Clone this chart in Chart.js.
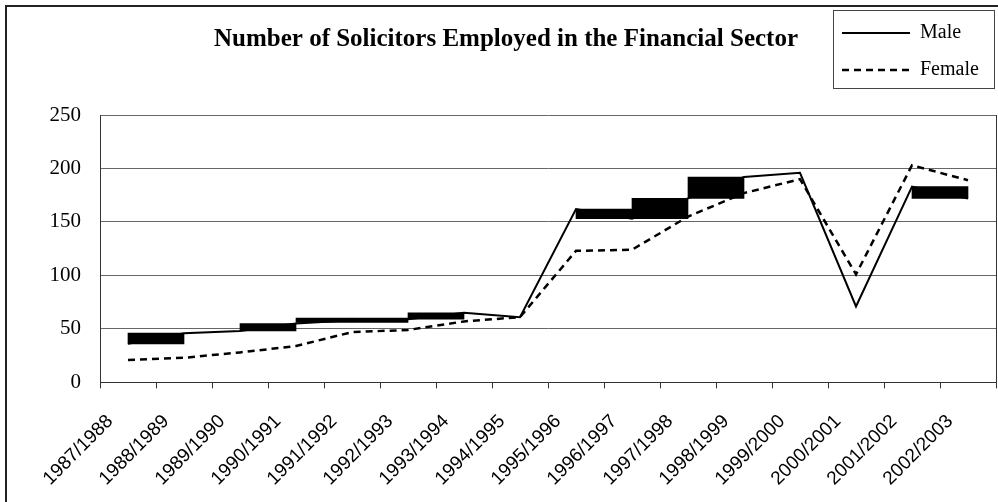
<!DOCTYPE html>
<html>
<head>
<meta charset="utf-8">
<title>Number of Solicitors Employed in the Financial Sector</title>
<script src="https://cdn.jsdelivr.net/npm/chart.js@4.4.1/dist/chart.umd.min.js"></script>
<style>
    html, body { margin: 0; padding: 0; background: #fff; overflow: hidden; }
    .chart-wrap { position: relative; width: 998px; height: 502px; }
    .frame {
        position: absolute; left: 5px; top: 5px; width: 1100px; height: 600px;
        border-left: 2px solid #222; border-top: 2px solid #222; pointer-events: none;
    }
</style>
</head>
<body>
<div class="chart-wrap">
    <canvas id="solicitorsChart"></canvas>
    <div class="frame"></div>
</div>
<script>
// Academic years on the category axis
const years = ['1987/1988', '1988/1989', '1989/1990', '1990/1991', '1991/1992', '1992/1993',
    '1993/1994', '1994/1995', '1995/1996', '1996/1997', '1997/1998', '1998/1999',
    '1999/2000', '2000/2001', '2001/2002', '2002/2003'];

// Solicitors employed
const male = [36, 46, 48, 55, 58, 59, 65, 61, 162, 153, 172, 192, 196, 71, 183, 172];
const female = [21, 23, 28, 34, 47, 49, 57, 61, 123, 124, 155, 177, 190, 101, 203, 189];

// Filled blocks on the Male line, each one runs from a year to the next
const blockFrom = [0, 2, 3, 4, 5, 8, 9, 10, 14];
const blockLow = [36, 48, 56, 56, 59, 153, 153, 172, 172];
const blockHigh = [46, 55, 60, 60, 65, 162, 172, 192, 183];

// Value axis ticks
const yTicks = [0, 50, 100, 150, 200, 250];

document.addEventListener('DOMContentLoaded', function() {
    const ctx = document.getElementById('solicitorsChart').getContext('2d');
    const blockDataset = 2;

    // Chart.js can't stack a top legend into a boxed column, so the legend
    // is laid out in the chart area and moved up to the top right here
    const legendFrame = {
        id: 'legendFrame',
        afterLayout(chart) {
            const legend = chart.legend;
            const frameRight = chart.chartArea.right - 2;
            legend.left = frameRight - 161 - 8;
            legend.top = 6;
            legend.width = 200;
            legend.height = 120;
            legend.right = legend.left + legend.width;
            legend.bottom = legend.top + legend.height;
        },
        afterDraw(chart) {
            const legend = chart.legend;
            const c = chart.ctx;
            c.save();
            c.strokeStyle = '#444';
            c.lineWidth = 1;
            c.strokeRect(Math.round(legend.left + 8) + 0.5, Math.round(legend.top + 4) + 0.5, 161, 78);
            c.restore();
        }
    };

    // Legend samples use the dataset line (dash and width), not the point style
    function lineLabels(chart) {
        const items = Chart.defaults.plugins.legend.labels.generateLabels(chart);
        return items.map(item => {
            const ds = chart.data.datasets[item.datasetIndex];
            item.lineDash = ds.borderDash || [];
            item.lineWidth = ds.borderWidth;
            item.strokeStyle = ds.borderColor;
            return item;
        });
    }

    new Chart(ctx, {
        type: 'line',
        data: {
            labels: years,
            datasets: [{
                label: 'Male',
                data: male,
                borderColor: '#000',
                backgroundColor: '#000',
                borderWidth: 2,
                pointRadius: 0,
                tension: 0,
                order: 1
            }, {
                label: 'Female',
                data: female,
                borderColor: '#000',
                backgroundColor: '#000',
                borderWidth: 2.5,
                borderDash: [7, 5],
                pointRadius: 0,
                tension: 0,
                order: 2
            }, {
                type: 'bar',
                label: '',
                xAxisID: 'xb',
                data: blockFrom.map((from, k) => ({ x: from + 0.5, y: [blockLow[k], blockHigh[k]] })),
                backgroundColor: '#000',
                borderWidth: 0,
                barPercentage: 1,
                categoryPercentage: 1,
                grouped: false,
                order: 3
            }]
        },
        options: {
            responsive: true,
            maintainAspectRatio: false,
            animation: false,
            layout: { padding: { left: 16, right: 2, top: 0, bottom: -10 } },
            plugins: {
                title: {
                    display: true,
                    text: 'Number of Solicitors Employed in the Financial Sector',
                    color: '#000',
                    font: { family: 'Liberation Serif', size: 25, weight: 'bold' },
                    padding: { top: 25, bottom: 60 }
                },
                legend: {
                    position: 'chartArea',
                    align: 'start',
                    labels: {
                        color: '#000',
                        font: { family: 'Liberation Serif', size: 20 },
                        usePointStyle: true,
                        pointStyle: 'line',
                        pointStyleWidth: 68,
                        padding: 17,
                        generateLabels: lineLabels,
                        filter: item => item.datasetIndex !== blockDataset
                    }
                },
                tooltip: { enabled: false }
            },
            scales: {
                x: {
                    offset: true,
                    grid: { offset: true, drawOnChartArea: false, drawTicks: true, tickLength: 6, color: '#333' },
                    border: { color: '#333', width: 1 },
                    ticks: {
                        autoSkip: false,
                        minRotation: 45,
                        maxRotation: 45,
                        labelOffset: -18,
                        padding: 22,
                        color: '#000',
                        font: { family: 'Liberation Sans', size: 19 }
                    },
                    // rotated labels end left of their tick, no room needed on the right
                    afterFit(axis) { axis.paddingRight = 0; }
                },
                // same span as the category axis, used to place the blocks between years
                xb: {
                    type: 'linear',
                    position: 'top',
                    offset: false,
                    bounds: 'data',
                    min: -0.5,
                    max: years.length - 0.5,
                    ticks: { display: false, stepSize: 1, includeBounds: false },
                    grid: { display: false, offset: false },
                    border: { display: false },
                    afterFit(axis) { axis.height = 0; }
                },
                y: {
                    min: yTicks[0],
                    max: yTicks[yTicks.length - 1],
                    grid: { color: '#666', drawTicks: false },
                    border: { color: '#333', width: 1 },
                    ticks: {
                        stepSize: yTicks[1] - yTicks[0],
                        padding: 19,
                        color: '#000',
                        font: { family: 'Liberation Serif', size: 21 }
                    },
                    afterFit(axis) { axis.width = 84; }
                },
                yRight: {
                    position: 'right',
                    ticks: { display: false },
                    grid: { drawOnChartArea: false, drawTicks: false },
                    border: { display: true, color: '#333', width: 1 },
                    afterFit(axis) { axis.width = 0; }
                }
            }
        },
        plugins: [legendFrame]
    });
});
</script>
</body>
</html>
